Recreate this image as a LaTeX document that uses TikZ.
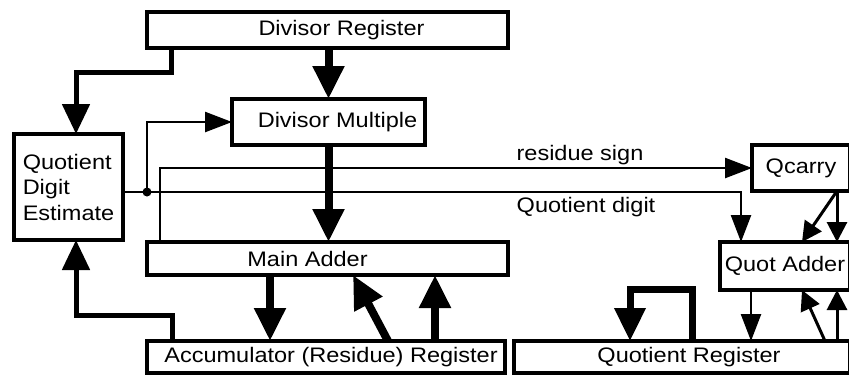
\documentclass[tikz,border=0pt]{standalone}
\usepackage{fontspec}
\setmainfont{Liberation Sans}[FakeStretch=1.12]
\usetikzlibrary{arrows.meta}

\tikzset{
  unit/.style={draw, line width=4pt, inner sep=0pt, outer sep=0pt,
    font=\fontsize{21pt}{25.5pt}\selectfont},
  lbl/.style={anchor=base, font=\fontsize{21pt}{25.5pt}\selectfont},
  bus/.style={line width=8pt, -{Triangle[length=33pt,width=30pt]}},
  mid/.style={line width=5pt, -{Triangle[length=30pt,width=27pt]}},
  sig/.style={line width=2.5pt, -{Triangle[length=27pt,width=20pt]}},
  small/.style={line width=3pt, -{Triangle[length=20pt,width=20pt]}}
}

\begin{document}
\begin{tikzpicture}[x=1pt, y=-1pt]

\useasboundingbox (0,0) rectangle (849,376);
\clip (0,0) rectangle (849,376);

% Blocos
\node[unit, minimum width=361pt, minimum height=36pt] (dreg) at (327.5,30) {\hspace*{28pt}Divisor Register};
\node[unit, minimum width=193pt, minimum height=46pt] (dmul) at (328.5,122) {\hspace*{18pt}Divisor Multiple};
\node[unit, minimum width=109pt, minimum height=106pt, align=left] (qde) at (68.5,187) {Quotient\\Digit\\Estimate};
\node[unit, minimum width=361pt, minimum height=33pt] (madd) at (327.5,258.5) {Main Adder\hspace*{40pt}};
\node[unit, minimum width=358pt, minimum height=32pt] (acc) at (326,357) {\hspace*{10pt}Accumulator (Residue) Register};
\node[unit, minimum width=336pt, minimum height=32pt] (qreg) at (682,357) {\hspace*{14pt}Quotient Register};
\node[unit, minimum width=130pt, minimum height=48pt] (qadd) at (785,266) {Quot Adder};
\node[unit, minimum width=98pt, minimum height=46pt] (qcar) at (801,168) {Qcarry};

% Rótulos dos sinais
\node[lbl] (rsign) at (580,160) {residue sign};
\node[lbl] (qdig) at (586,212) {Quotient digit};

% Divisor
\draw[bus] (dreg.south -| dmul.north) -- (dmul.north);
\draw[mid] (dreg.south -| 171,0) -- (171,72) -| (qde.north -| 76,0);
\draw[bus] (dmul.south) -- (dmul.south |- madd.north);

% Somador principal e acumulador
\draw[bus] (madd.south -| 270,0) -- (acc.north -| 270,0);
\draw[bus] (acc.north -| 388,0) -- (madd.south -| 353,0);
\draw[bus] (acc.north -| 435,0) -- (madd.south -| 435,0);
\draw[mid] (acc.north -| 172,0) -- (172,315) -| (qde.south -| 76,0);

% Dígito do quociente
\draw[sig] (qde.east |- 0,192) -- (741,192) -- (qadd.north -| 741,0);
\node[circle, fill, inner sep=0pt, minimum size=9pt] (jdot) at (147,192) {};
\draw[sig] (jdot.center) |- (dmul.west);

% Sinal do resíduo
\draw[sig] (madd.north -| 160,0) |- (qcar.west);

% Registrador do quociente
\draw[line width=7pt, -{Triangle[length=33pt,width=30pt]}] (qreg.north -| 692,0) -- (692,289) -| (qreg.north -| 630,0);
\draw[sig] (qadd.south -| 751,0) -- (qreg.north -| 751,0);
\draw[small] (qreg.north -| 825,0) -- (qadd.south -| 802,0);
\draw[small] (qreg.north -| 837,0) -- (qadd.south -| 837,0);
\draw[small] (qcar.south -| 837,0) -- (qadd.north -| 802,0);
\draw[small] (qcar.south -| 837,0) -- (qadd.north -| 837,0);

\end{tikzpicture}
\end{document}
